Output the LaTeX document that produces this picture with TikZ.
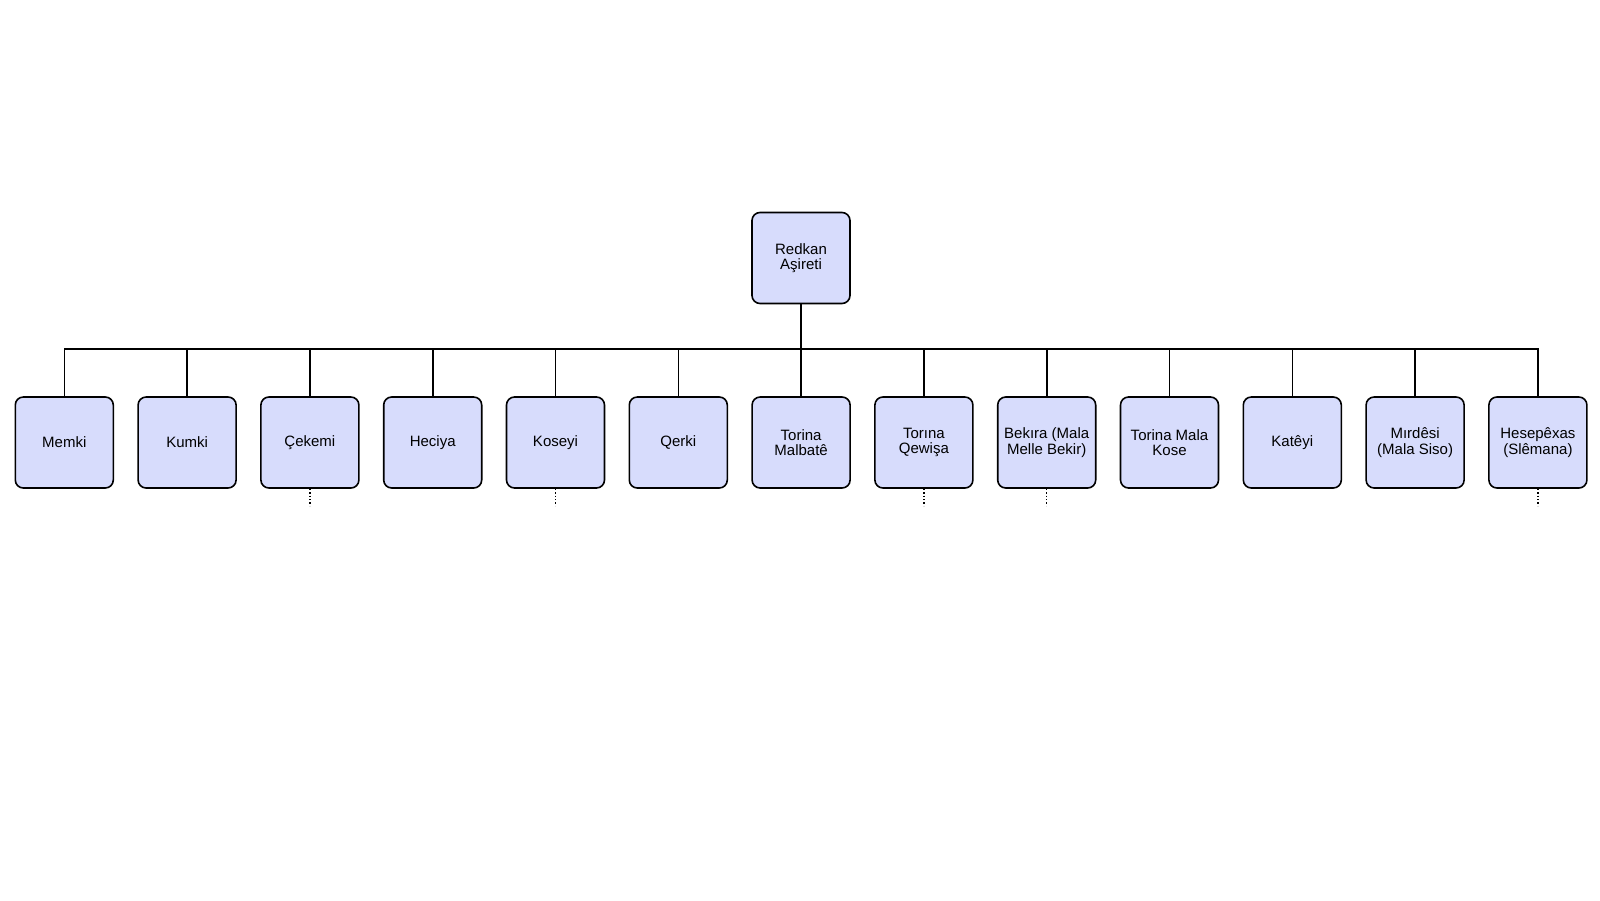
\documentclass[tikz,border=0pt]{standalone}
\usepackage{fontspec}
\setmainfont{Liberation Sans}
\usepackage{xcolor}
\usepackage{tikz}
\usetikzlibrary{positioning}
\definecolor{boxfill}{RGB}{215,220,252}

\begin{document}
\begin{tikzpicture}[x=1pt,y=-1pt,
    clan/.style={draw,fill=boxfill,line width=1.6pt,rounded corners=8pt,minimum width=98pt,minimum height=91pt,align=center,font=\fontsize{15}{15.3}\selectfont,inner sep=1pt},
    link/.style={line width=1.6pt}]
        \useasboundingbox (0,0) rectangle (1600,900);
        \node[clan] (root) at (801,258) {Redkan\\Aşireti};
        \coordinate (bus) at (801,349);
        \foreach \i/\t in {1/Memki,2/Kumki,3/Çekemi,4/Heciya,5/Koseyi,6/Qerki,7/{Torina\\Malbatê},8/{Torına\\Qewişa},9/{Bekıra (Mala\\Melle Bekir)},10/{Torina Mala\\Kose},11/Katêyi,12/{Mırdêsi\\(Mala Siso)},13/{Hesepêxas\\(Slêmana)}}{
            \node[clan] (c\i) at ({64.3+122.8*(\i-1)},442.5) {\t};
            \draw[link] (c\i.north) |- (bus);
        }
        \draw[link] (root.south) -- (bus);
        \foreach \i in {3,5,8,9,13}{\draw[dotted,line width=1.4pt] (c\i.south) -- ++(0,17);}
      \end{tikzpicture}
\end{document}
